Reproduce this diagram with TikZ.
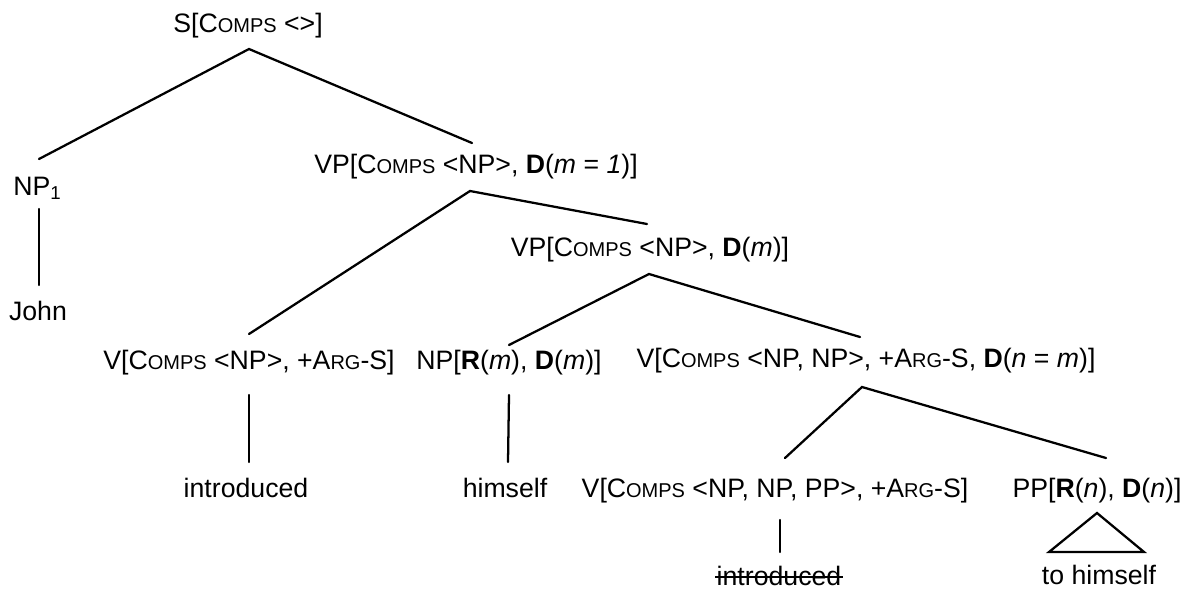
\documentclass[tikz,border=0pt]{standalone}
\usepackage{fontspec}
\setmainfont{Liberation Sans}
\usetikzlibrary{positioning}

% fake small caps: full-size first letter, smaller capitals after it
\newcommand{\fsc}[2]{#1{\fontsize{15}{18}\selectfont #2}}
\newcommand{\Comps}{\fsc{C}{OMPS}}
\newcommand{\ArgS}{+\fsc{A}{RG}-S}

\begin{document}
\begin{tikzpicture}[
            x=0.75pt, y=-0.75pt,
            cat/.style={anchor=base, inner sep=0pt, font=\fontsize{20}{24}\selectfont},
            branch/.style={line width=1.7pt, line cap=round}
        ]
        \useasboundingbox (0,0) rectangle (1189,590);

        % Categories
        \node[cat] (s) at (248,32) {S[\Comps{} <>]};
        \node[cat] (np1) at (37.5,195) {NP\textsubscript{1}};
        \node[cat] (vp1) at (476,173) {VP[\Comps{} <NP>, \textbf{D}(\textit{m} = \textit{1})]};
        \node[cat] (vp2) at (650,256) {VP[\Comps{} <NP>, \textbf{D}(\textit{m})]};
        \node[cat] (v1) at (249,369) {V[\Comps{} <NP>, \ArgS]};
        \node[cat] (np2) at (509,369) {NP[\textbf{R}(\textit{m}), \textbf{D}(\textit{m})]};
        \node[cat] (v2) at (866,367) {V[\Comps{} <NP, NP>, \ArgS, \textbf{D}(\textit{n} = \textit{m})]};
        \node[cat] (v3) at (775,497) {V[\Comps{} <NP, NP, PP>, \ArgS]};
        \node[cat] (pp) at (1097,497) {PP[\textbf{R}(\textit{n}), \textbf{D}(\textit{n})]};

        % Words
        \node[cat] (john) at (38,320) {John};
        \node[cat] (intro) at (246,497) {introduced};
        \node[cat] (himself) at (505,497) {himself};
        \node[cat] (intro2) at (779,585) {introduced};
        \node[cat] (tohim) at (1099,584) {to himself};

        % Branches
        \draw[branch] ([shift={(1.5,-36)}]np1.base) -- ([shift={(1,17)}]s.base) -- ([shift={(-4,-30)}]vp1.base);
        \draw[branch] ([shift={(0,-35)}]v1.base) -- ([shift={(-6,18)}]vp1.base) -- ([shift={(-3,-32)}]vp2.base);
        \draw[branch] ([shift={(0,-24)}]np2.base) -- ([shift={(-1,18)}]vp2.base) -- ([shift={(-6,-30)}]v2.base);
        \draw[branch] ([shift={(10,-39)}]v3.base) -- ([shift={(-4,20)}]v2.base) -- ([shift={(9,-39)}]pp.base);
        \draw[branch] ([shift={(1.5,14)}]np1.base) -- ([shift={(1,-35)}]john.base);
        \draw[branch] ([shift={(0,26)}]v1.base) -- ([shift={(3,-35)}]intro.base);
        \draw[branch] ([shift={(0,26)}]np2.base) -- ([shift={(3,-35)}]himself.base);
        \draw[branch] ([shift={(5,23)}]v3.base) -- ([shift={(1,-33)}]intro2.base);
        \draw[branch] ([shift={(0,16)}]pp.base) -- ([shift={(-50,-32)}]tohim.base) -- ([shift={(45,-32)}]tohim.base) -- cycle;

        % struck-out copy of the verb
        \draw[line width=1.1pt] ([shift={(-1,-8)}]intro2.base west) -- ([shift={(1,-8)}]intro2.base east);

    \end{tikzpicture}
\end{document}
